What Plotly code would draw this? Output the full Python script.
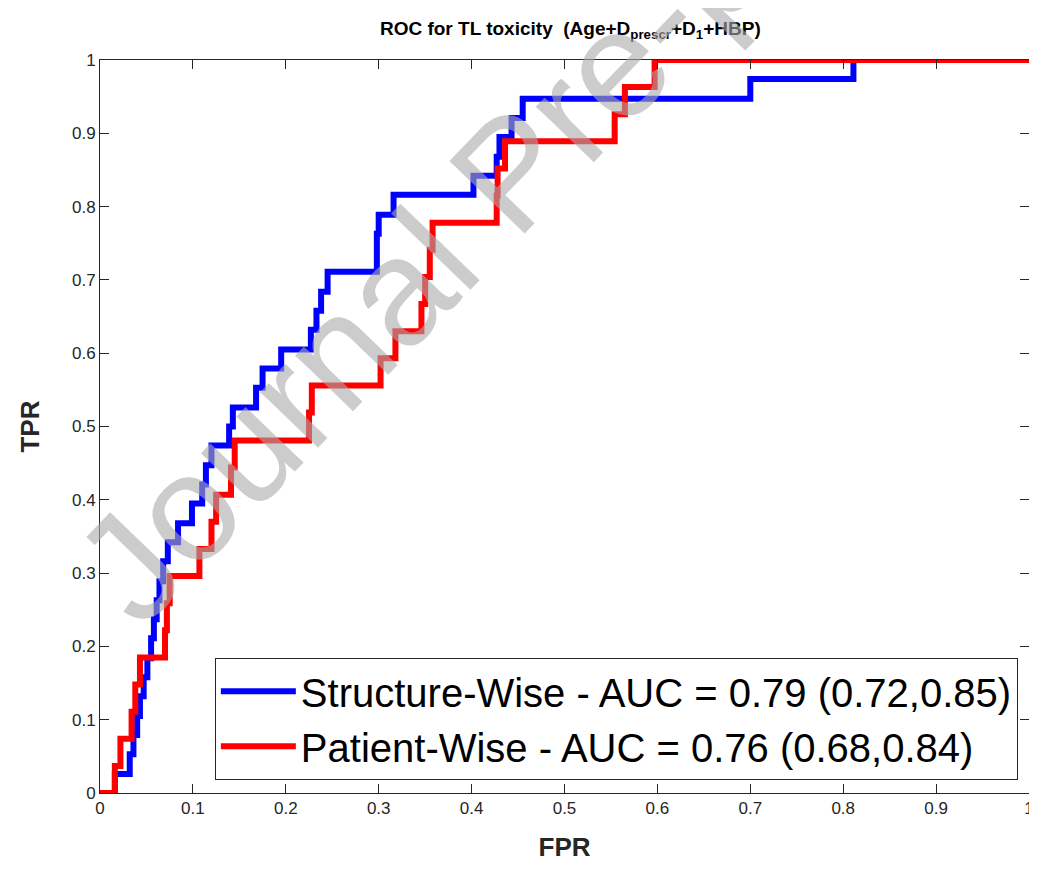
import plotly.graph_objects as go

# ROC 曲线拐点 (FPR, TPR)，按 hv 阶梯绘制
struct_fpr = [0, 0.016, 0.032, 0.036, 0.040, 0.043, 0.047, 0.051, 0.055, 0.058,
              0.061, 0.064, 0.068, 0.073, 0.084, 0.099, 0.110, 0.114, 0.120, 0.139,
              0.143, 0.168, 0.175, 0.195, 0.227, 0.233, 0.238, 0.245, 0.298, 0.298,
              0.300, 0.316, 0.402, 0.427, 0.430, 0.443, 0.455, 0.700, 0.811, 1.0]
struct_tpr = [0, 0.026, 0.053, 0.079, 0.105, 0.132, 0.158, 0.184, 0.211, 0.237,
              0.263, 0.289, 0.316, 0.342, 0.368, 0.395, 0.421, 0.447, 0.474, 0.500,
              0.526, 0.553, 0.579, 0.605, 0.632, 0.658, 0.684, 0.711, 0.737, 0.763,
              0.789, 0.816, 0.842, 0.868, 0.895, 0.921, 0.947, 0.974, 1.0, 1.0]

patient_fpr = [0, 0.016, 0.022, 0.034, 0.038, 0.043, 0.070, 0.072, 0.075, 0.107,
               0.120, 0.125, 0.141, 0.145, 0.225, 0.228, 0.302, 0.318, 0.346, 0.350,
               0.355, 0.358, 0.427, 0.428, 0.436, 0.554, 0.565, 0.597, 1.0]
patient_tpr = [0, 0.037, 0.074, 0.111, 0.148, 0.185, 0.222, 0.259, 0.296, 0.333,
               0.370, 0.407, 0.444, 0.481, 0.519, 0.556, 0.593, 0.630, 0.667, 0.704,
               0.741, 0.778, 0.815, 0.852, 0.889, 0.926, 0.963, 1.0, 1.0]

names = ["Structure-Wise - AUC = 0.79 (0.72,0.85)",
         "Patient-Wise - AUC = 0.76 (0.68,0.84)"]
ticks = [0, 0.1, 0.2, 0.3, 0.4, 0.5, 0.6, 0.7, 0.8, 0.9, 1]
tick_text = ["0", "0.1", "0.2", "0.3", "0.4", "0.5", "0.6", "0.7", "0.8", "0.9", "1"]

FONT = "Liberation Sans, Arial, Helvetica, sans-serif"
AX = "#262626"
H = 854

fig = go.Figure()
fig.add_trace(go.Scatter(x=struct_fpr, y=struct_tpr, mode="lines", name=names[0],
                         line=dict(color="#0000ff", width=6, shape="hv"),
                         legendgroup="a"))
fig.add_trace(go.Scatter(x=patient_fpr, y=patient_tpr, mode="lines", name=names[1],
                         line=dict(color="#ff0000", width=6, shape="hv"),
                         legendgroup="b"))

axis_common = dict(
    range=[0, 1], tickvals=ticks, ticktext=tick_text,
    ticks="inside", ticklen=9, tickcolor=AX, tickwidth=1,
    showline=True, linecolor=AX, linewidth=1, mirror="ticks",
    showgrid=False, zeroline=False, ticklabeloverflow="allow",
    automargin=False,
    tickfont=dict(family=FONT, size=17, color=AX),
)
fig.update_xaxes(**axis_common,
                 title=dict(text="<b>FPR</b>", font=dict(family=FONT, size=26, color=AX),
                            standoff=26))
fig.update_yaxes(**axis_common,
                 title=dict(text="<b>TPR</b>", font=dict(family=FONT, size=26, color=AX),
                            standoff=24))

# 水印
fig.add_annotation(text="Journal Pre-proof", xref="paper", yref="paper",
                   x=0.442, y=0.847, xanchor="center", yanchor="middle",
                   showarrow=False, textangle=-46,
                   font=dict(family=FONT, size=152, color="rgba(170,170,170,0.6)"))

# 页面 body 有 8px 边距：宽度让右边刚好到窗口边，高度留出余量，避免整页被缩放
fig.update_layout(
    width=1029, height=H,
    margin=dict(l=92, r=8, t=52, b=H - 785),
    paper_bgcolor="white", plot_bgcolor="white",
    title=dict(text="<b>ROC for TL toxicity  (Age+D<sub>prescr</sub>+D<sub>1</sub>+HBP)</b>",
               x=0.5465, xanchor="center", y=1 - 20 / H, yanchor="middle",
               font=dict(family=FONT, size=19, color="black")),
    legend=dict(x=0.988, y=0.018, xanchor="right", yanchor="bottom",
                bgcolor="white", bordercolor=AX, borderwidth=1,
                font=dict(family=FONT, size=40, color="black"),
                itemwidth=75, traceorder="grouped", tracegroupgap=0),
    showlegend=True,
)

fig.write_html("out.html")
